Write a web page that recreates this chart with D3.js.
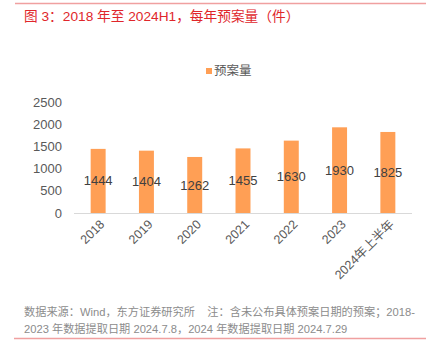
<!DOCTYPE html>
<html><head><meta charset="utf-8">
<script src="https://cdn.jsdelivr.net/npm/d3@7"></script>
<style>body{margin:0;background:#fff;}svg{display:block;font-family:"Liberation Sans","Noto Sans CJK SC",sans-serif;}</style>
</head><body>
<svg id="c" width="441" height="353"></svg>
<script>
const categories = ["2018","2019","2020","2021","2022","2023","2024年上半年"];
const values = [1444,1404,1262,1455,1630,1930,1825];
const yTicks = [0,500,1000,1500,2000,2500];
const seriesName = "预案量";
const title = "图 3：2018 年至 2024H1，每年预案量（件）";
const note1 = "数据来源：Wind，东方证券研究所    注：含未公布具体预案日期的预案；2018-";
const note2 = "2023 年数据提取日期 2024.7.8，2024 年数据提取日期 2024.7.29";

const svg = d3.select("#c");
svg.append("line").attr("x1",15).attr("x2",426).attr("y1",3.5).attr("y2",3.5).attr("stroke","#f0a0a0").attr("stroke-width",1.5);
svg.append("text").attr("x",24).attr("y",21).attr("fill","#e0262b").attr("font-size",13.7).text(title);

const x = d3.scaleBand().domain(categories).range([74,412]).paddingInner(0.69).paddingOuter(0.345);
const y = d3.scaleLinear().domain([0,2500]).range([213,102]);

// y axis labels
svg.append("g").selectAll("text").data(yTicks).join("text")
  .attr("x",62).attr("y",d=>y(d)).attr("dy","0.35em").attr("text-anchor","end")
  .attr("font-size",13).attr("fill","#595959").text(d=>d);

// bars
svg.append("g").selectAll("rect").data(values).join("rect")
  .attr("x",(d,i)=>x(categories[i])).attr("width",x.bandwidth())
  .attr("y",d=>y(d)).attr("height",d=>y(0)-y(d)).attr("fill","#ff9f55");

// axis line
svg.append("line").attr("x1",74).attr("x2",412).attr("y1",213.5).attr("y2",213.5).attr("stroke","#d9d9d9").attr("stroke-width",1);

// value labels
svg.append("g").selectAll("text").data(values).join("text")
  .attr("x",(d,i)=>x(categories[i])+x.bandwidth()/2).attr("y",d=>(y(d)+y(0))/2).attr("dy","0.35em")
  .attr("text-anchor","middle").attr("font-size",13).attr("fill","#404040").text(d=>d);

// x labels
svg.append("g").selectAll("text").data(categories).join("text")
  .attr("transform",d=>`translate(${x(d)+x.bandwidth()/2+4},${222}) rotate(-45)`)
  .attr("text-anchor","end").attr("dy","0.35em").attr("font-size",12.5).attr("fill","#595959").text(d=>d);

// legend
svg.append("rect").attr("x",206).attr("y",68).attr("width",6).attr("height",6).attr("fill","#ff9f55");
svg.append("text").attr("x",214).attr("y",71).attr("dy","0.35em").attr("font-size",12.5).attr("fill","#595959").text(seriesName);

// footer
svg.append("text").attr("x",24).attr("y",316).attr("font-size",11.2).attr("fill","#8c8c8c").style("white-space","pre").text(note1);
svg.append("text").attr("x",24).attr("y",333).attr("font-size",11.2).attr("fill","#8c8c8c").text(note2);
svg.append("line").attr("x1",14).attr("x2",426).attr("y1",338.5).attr("y2",338.5).attr("stroke","#f0a0a0").attr("stroke-width",1.5);
</script>
</body></html>
